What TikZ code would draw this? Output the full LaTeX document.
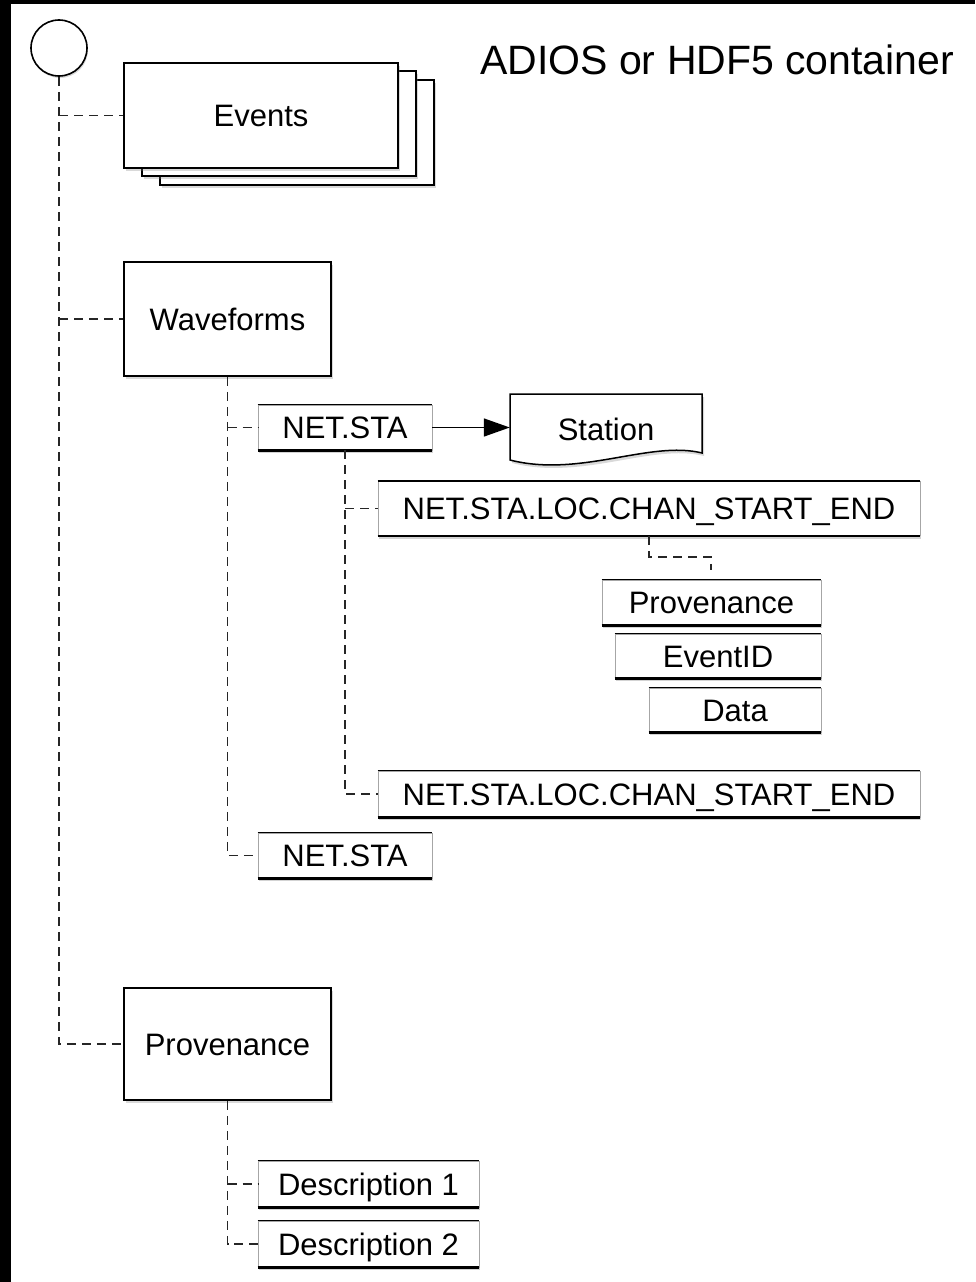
\documentclass[tikz,border=0pt]{standalone}
\usepackage{fontspec}
\setmainfont{Liberation Sans}
\usetikzlibrary{shadows,arrows.meta,calc}
\begin{document}
\begin{tikzpicture}[x=1pt,y=-1pt,
  lab/.style={font=\fontsize{31}{36}\selectfont, text height=22pt, text depth=0pt, inner sep=0pt},
  bigbox/.style={lab, draw=black, line width=1.7pt, fill=white, drop shadow={shadow xshift=2pt,shadow yshift=-3pt,opacity=0.3}},
  smallbox/.style={lab, draw=black!35, line width=0.6pt, fill=white, drop shadow={shadow xshift=1pt,shadow yshift=-3pt,opacity=0.35}},
  topline/.style={line width=1.5pt},
  botline/.style={line width=2.6pt},
  conn/.style={line width=1.8pt, black!85, dash pattern=on 9pt off 6pt},
]
\useasboundingbox (0,0) rectangle (975,1282);
\fill[black] (0,0) rectangle (11,1282);
\fill[black] (0,0) rectangle (975,4);

\node[font=\fontsize{41}{48}\selectfont, anchor=west, inner sep=0pt] (title) at (480,60) {ADIOS or HDF5 container};

\node[draw, circle, line width=1.6pt, minimum size=56pt, inner sep=0pt, fill=white, drop shadow={shadow xshift=1pt,shadow yshift=-2pt,opacity=0.3}] (root) at (59,48) {};

\node[bigbox, minimum width=274pt, minimum height=105pt] (events3) at (297,132.5) {};
\node[bigbox, minimum width=274pt, minimum height=105pt] (events2) at (279,123.5) {};
\node[bigbox, minimum width=274pt, minimum height=105pt] (events) at (261,115.5) {Events};

\node[bigbox, minimum width=207pt, minimum height=114pt] (wave) at (227.5,319) {Waveforms};
\node[bigbox, minimum width=207pt, minimum height=112pt] (prov) at (227.5,1044) {Provenance};

\node[smallbox, minimum width=174pt, minimum height=45pt] (ns1) at (345,427.5) {NET.STA};
\node[smallbox, minimum width=542pt, minimum height=54pt] (chan1) at (649,508.5) {NET.STA.LOC.CHAN\_START\_END};
\node[smallbox, minimum width=219pt, minimum height=45pt] (psub) at (711.5,602.5) {Provenance};
\node[smallbox, minimum width=206pt, minimum height=44pt] (evid) at (718,656) {EventID};
\node[smallbox, minimum width=172pt, minimum height=44pt] (data) at (735,710) {Data};
\node[smallbox, minimum width=542pt, minimum height=46pt] (chan2) at (649,794) {NET.STA.LOC.CHAN\_START\_END};
\node[smallbox, minimum width=174pt, minimum height=45pt] (ns2) at (345,855.5) {NET.STA};
\node[smallbox, minimum width=221pt, minimum height=46pt] (desc1) at (368.5,1184) {Description 1};
\node[smallbox, minimum width=221pt, minimum height=46pt] (desc2) at (368.5,1244) {Description 2};

\foreach \n in {ns1,chan1,psub,evid,data,chan2,ns2,desc1,desc2}{
  \draw[topline] (\n.north west) -- (\n.north east);
  \draw[botline] (\n.south west) -- (\n.south east);
}

% Station (document shape)
\draw[line width=1.5pt, fill=white, drop shadow={shadow xshift=2pt,shadow yshift=-3pt,opacity=0.3}]
  (510,394) -- (702,394) -- (702,453) .. controls (650,440) and (580,478) .. (510,460) -- cycle;
\node[lab, minimum width=192pt] (station) at (606,429) {Station};

\draw[line width=1.5pt, -{Triangle[length=26pt,width=18pt]}] (ns1.east) -- (ns1.east -| station.west);

\draw[conn] (root.south) |- (prov.west);
\draw[conn] (root.south |- events.west) -- (events.west);
\draw[conn] (root.south |- wave.west) -- (wave.west);
\draw[conn] (wave.south) |- (ns2.west);
\draw[conn] (wave.south |- ns1.west) -- (ns1.west);
\draw[conn] (ns1.south) |- (chan2.west);
\draw[conn] (ns1.south |- chan1.west) -- (chan1.west);
\coordinate (subtop) at (711,570);
\draw[conn] (chan1.south) -- ++(0,21) -| (subtop);
\draw[conn] (prov.south) |- (desc2.west);
\draw[conn] (prov.south |- desc1.west) -- (desc1.west);
\end{tikzpicture}
\end{document}
